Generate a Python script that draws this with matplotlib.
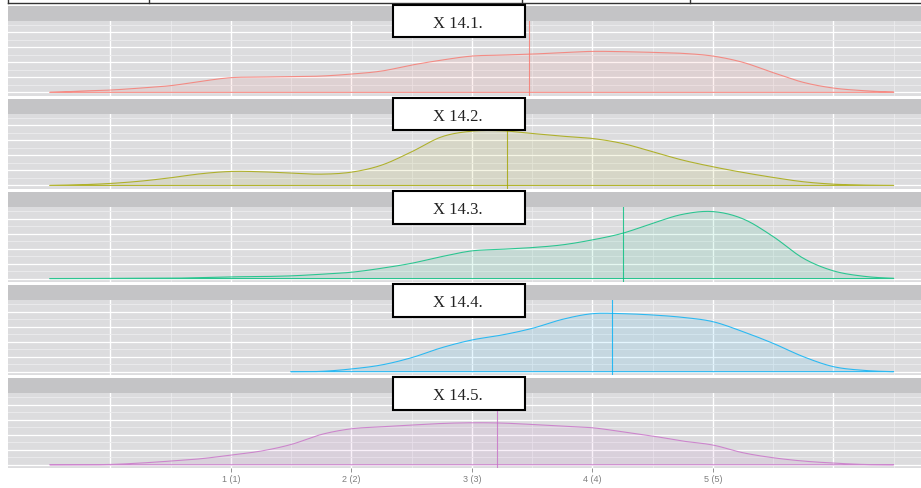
import numpy as np
import matplotlib.pyplot as plt
from matplotlib.patches import Rectangle
from matplotlib.lines import Line2D

# shared density grid (x = -0.5 .. 6.5 step 0.25)
x_grid = [-0.5, -0.25, 0, 0.25, 0.5, 0.75, 1, 1.25, 1.5, 1.75, 2, 2.25, 2.5, 2.75,
          3, 3.25, 3.5, 3.75, 4, 4.25, 4.5, 4.75, 5, 5.25, 5.5, 5.75, 6, 6.25, 6.5]
x_grid_4 = [1.5, 1.75, 2, 2.25, 2.5, 2.75, 3, 3.25, 3.5, 3.75, 4, 4.25, 4.5, 4.75,
            5, 5.25, 5.5, 5.75, 6, 6.25, 6.5]

dens_1 = [0, 1.3, 2.3, 4.3, 6.7, 11, 14.7, 15.3, 15.7, 16.3, 18.3, 21.3, 27.3, 32.3, 36.3,
          37.3, 38.3, 39.7, 41, 40.7, 40, 39, 36.3, 30, 19.7, 10, 4.3, 1.7, 0.3]
dens_2 = [0, 0.7, 2, 4.3, 7.7, 11.7, 14, 13.7, 12.3, 11.3, 13.3, 20.3, 33.7, 48.7, 54.3,
          54.7, 52, 49.3, 47, 42, 33.7, 25.3, 18.7, 13, 8, 3.7, 1.3, 0.3, 0]
dens_3 = [0, 0, 0.2, 0.3, 0.3, 1, 1.7, 2, 2.7, 4.3, 6.3, 10.3, 15.3, 22, 27.7,
          29.3, 31, 33.7, 38.7, 45.3, 55.3, 64.3, 67, 59.7, 42, 20.3, 7.7, 2.3, 0.3]
dens_4 = [0, 0.3, 2.7, 6.7, 14, 24, 31.7, 36.7, 43.3, 52.3, 58, 58, 56.7, 54.3,
          50, 40, 28.3, 15, 5, 1.3, 0]
dens_5 = [0, 0, 0.3, 1.7, 3.7, 6, 9.7, 13.7, 20.3, 30.3, 36, 38, 39.7, 41.3, 42,
          41.7, 40.3, 38.7, 37, 33, 28.7, 23.7, 19.7, 12, 7, 3.7, 1.7, 0.3, 0]

labels = ["X 14.1.", "X 14.2.", "X 14.3.", "X 14.4.", "X 14.5."]
means = [3.47, 3.29, 4.25, 4.16, 3.21]
colors = ["#F8766D", "#A3A500", "#00BF7D", "#00B0F6", "#C870C8"]
xs = [x_grid, x_grid, x_grid, x_grid_4, x_grid]
ys = [dens_1, dens_2, dens_3, dens_4, dens_5]

tick_pos = [1, 2, 3, 4, 5]
tick_lab = ["1 (1)", "2 (2)", "3 (3)", "4 (4)", "5 (5)"]

W, H = 921, 488
fig = plt.figure(figsize=(W / 100, H / 100), dpi=100)


def fx(px):
    return px / W


def fy(py):
    return 1 - py / H


def smooth(x, y, n=12):
    # catmull-rom drawing through the read points
    x = np.asarray(x, float)
    y = np.asarray(y, float)
    px = np.concatenate([[2 * x[0] - x[1]], x, [2 * x[-1] - x[-2]]])
    py = np.concatenate([[y[0]], y, [y[-1]]])
    ox, oy = [], []
    t = np.linspace(0, 1, n, endpoint=False)
    for k in range(1, len(px) - 2):
        for arr, out in ((px, ox), (py, oy)):
            p0, p1, p2, p3 = arr[k - 1], arr[k], arr[k + 1], arr[k + 2]
            out.extend(0.5 * (2 * p1 + (-p0 + p2) * t
                              + (2 * p0 - 5 * p1 + 4 * p2 - p3) * t ** 2
                              + (-p0 + 3 * p1 - 3 * p2 + p3) * t ** 3))
    ox.append(x[-1])
    oy.append(y[-1])
    return np.array(ox), np.clip(np.array(oy), 0, None)


# top cut-off table lines
fig.add_artist(Line2D([fx(8), 1], [fy(2.7), fy(2.7)], color="#333333", lw=1))
for vx in [8, 149, 522, 690]:
    fig.add_artist(Line2D([fx(vx), fx(vx)], [1, fy(2.7)], color="#333333", lw=1))

ymax = 0.67
for i in range(5):
    st = 6 + i * 93.1
    pt = st + 14.7
    pb = pt + 75
    left = 8
    width = 7.7 * 120.5

    # strip
    fig.add_artist(Rectangle((fx(left), fy(pt)), width / W, 14.7 / H,
                             facecolor="#C4C4C6", edgecolor="none"))

    ax = fig.add_axes([fx(left), fy(pb), width / W, 75 / H])
    ax.set_facecolor("#DCDCDE")
    for s in ax.spines.values():
        s.set_visible(False)
    ax.set_xlim(-0.85, 6.85)
    ax.set_ylim(-0.05 * ymax, ymax * 1.07)

    for gx in range(0, 7):
        ax.axvline(gx, color="white", lw=1.0, zorder=0)
        ax.axvline(gx + 0.5, color="#ebebed", lw=0.6, zorder=0)
    k = 0
    while k * 0.075 < ymax * 1.07:
        ax.axhline(k * 0.075, color="white" if k % 2 == 0 else "#ececee",
                   lw=0.9 if k % 2 == 0 else 0.6, zorder=0)
        k += 1

    sx, sy = smooth(xs[i], [v / 100 for v in ys[i]])
    ax.fill_between(sx, sy, 0, color=colors[i], alpha=0.1, lw=0, zorder=2)
    ax.plot(list(sx) + [sx[-1], sx[0]], list(sy) + [0, 0], color=colors[i],
            lw=0.8, alpha=0.8, zorder=3)
    ax.axvline(means[i], color=colors[i], lw=0.8, alpha=0.8, zorder=3)

    if i == 4:
        ax.set_xticks(tick_pos)
        ax.set_xticklabels(tick_lab, fontsize=6.5, color="#7f7f7f",
                           family="Liberation Sans")
        ax.tick_params(axis="x", length=3, width=0.6, color="#7f7f7f", pad=2)
    else:
        ax.set_xticks([])
    ax.set_yticks([])

    # label box
    bt = st - 1.3
    bh = 32.6
    fig.add_artist(Rectangle((fx(393), fy(bt + bh)), 131.7 / W, bh / H,
                             facecolor="white", edgecolor="black", lw=1.5, zorder=10))
    fig.text(fx(458), fy(bt + bh / 2 + 3), labels[i], ha="center", va="center",
             fontsize=12, family="Liberation Serif", color="#222222", zorder=11)

fig.savefig("out.png", dpi=100)
